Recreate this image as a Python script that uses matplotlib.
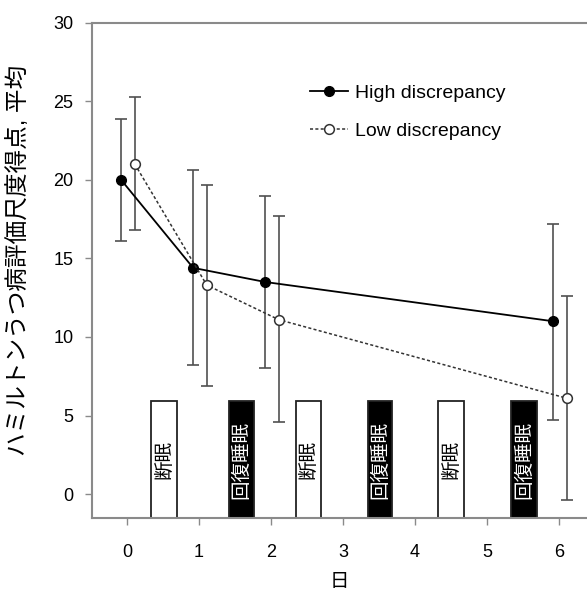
import matplotlib
matplotlib.use("Agg")
import matplotlib.pyplot as plt
import numpy as np

plt.rcParams['font.family'] = ['Liberation Sans', 'Noto Sans CJK JP']

# data
days = [0, 1, 2, 6]
high_mean = [20.0, 14.4, 13.5, 11.0]
high_upper = [23.9, 20.6, 19.0, 17.2]
high_lower = [16.1, 8.2, 8.0, 4.7]
low_mean = [21.0, 13.3, 11.1, 6.1]
low_upper = [25.3, 19.7, 17.7, 12.6]
low_lower = [16.8, 6.9, 4.6, -0.4]

# sleep condition boxes: (start, end) in day units, label, filled?
box_start = [0.34, 1.42, 2.35, 3.35, 4.32, 5.34]
box_end = [0.69, 1.77, 2.69, 3.68, 4.68, 5.69]
box_label = ["断眠", "回復睡眠", "断眠", "回復睡眠", "断眠", "回復睡眠"]
box_dark = [False, True, False, True, False, True]
box_top = 5.9

y_ticks = [0, 5, 10, 15, 20, 25, 30]
x_ticks = [0, 1, 2, 3, 4, 5, 6]

GREY = "#8a8a8a"

fig = plt.figure(figsize=(5.87, 5.92), dpi=100)
ax = fig.add_axes([0.156, 0.1255, 0.844, 0.8362])

ymin = -1.5

def draw_group(offset, mean, lo, hi, style):
    x = np.array(days) + offset
    m = np.array(mean)
    yerr = [m - np.array(lo), np.array(hi) - m]
    ax.errorbar(x, m, yerr=yerr, fmt="none", ecolor="#505050",
                elinewidth=1.2, capsize=4, capthick=1.2, zorder=2)
    return ax.plot(x, m, **style, zorder=3)[0]

h_high = draw_group(-0.08, high_mean, high_lower, high_upper,
                    dict(color="black", lw=1.3, linestyle="-", marker="o",
                         markersize=7, markerfacecolor="black",
                         markeredgecolor="black"))
h_low = draw_group(0.11, low_mean, low_lower, low_upper,
                   dict(color="#333333", lw=1.1, linestyle=(0, (2, 1.5)),
                        marker="o", markersize=7, markerfacecolor="white",
                        markeredgecolor="#333333", markeredgewidth=1.1))

for s, e, lab, dark in zip(box_start, box_end, box_label, box_dark):
    face = "black" if dark else "white"
    ax.bar((s + e) / 2, box_top - ymin, width=e - s, bottom=ymin,
           color=face, edgecolor="#222222", linewidth=1.3, zorder=1)
    ax.text((s + e) / 2, (box_top + ymin) / 2, lab, rotation=90,
            ha="center", va="center", fontsize=14,
            color="white" if dark else "black", zorder=4)

ax.set_xlim(-0.49, 6.39)
ax.set_ylim(ymin, 30)
ax.set_xticks(x_ticks)
ax.set_yticks(y_ticks)
ax.tick_params(axis="both", direction="out", length=5, width=1,
               color=GREY, labelsize=13, colors="black")
ax.tick_params(axis="x", pad=14)
ax.tick_params(axis="y", pad=8)
for side in ["left", "bottom", "top"]:
    ax.spines[side].set_color(GREY)
    ax.spines[side].set_linewidth(1.5)
ax.spines["right"].set_visible(False)

ax.set_xlabel("日", fontsize=14, labelpad=9)
ax.set_ylabel("ハミルトンうつ病評価尺度得点, 平均", fontsize=17)
ax.yaxis.set_label_coords(-0.125, 0.52)

ax.legend([h_high, h_low], ["High discrepancy", "Low discrepancy"],
          loc="upper left", bbox_to_anchor=(0.44, 0.876), frameon=False,
          fontsize=14, handlelength=2.0, handletextpad=0.35,
          labelspacing=1.05, borderpad=0, borderaxespad=0)

fig.savefig("out.png", dpi=100)
